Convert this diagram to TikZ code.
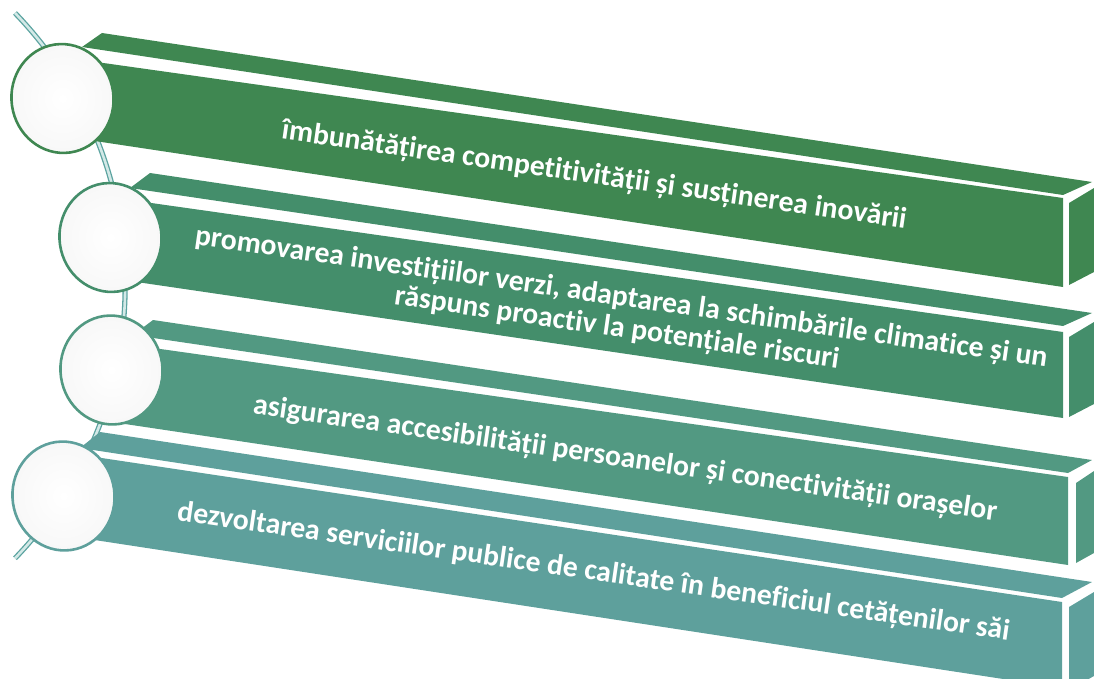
\documentclass[tikz,border=0pt]{standalone}
\usepackage{fontspec}
\setmainfont{Carlito}[Ligatures=NoCommon]
\usetikzlibrary{shapes.geometric}
\definecolor{gA}{HTML}{3F8751}
\definecolor{gB}{HTML}{448E6B}
\definecolor{gC}{HTML}{529982}
\definecolor{gD}{HTML}{5EA09C}
\definecolor{spineC}{HTML}{5BA3A0}
\definecolor{spineL}{HTML}{D3E9E7}
\begin{document}
\begin{tikzpicture}[x=1pt,y=-1pt,
  barlabel/.style={text=white, font=\bfseries\fontsize{29.7}{31}\selectfont, rotate=-8.2, align=center, inner sep=0pt},
  disc/.style={ellipse, draw=#1, line width=2.6pt, inner color=white, outer color=black!3,
    minimum width=102pt, minimum height=109pt, inner sep=0pt, rotate=8},
  spine/.style={draw=spineC, line width=1.3pt, double=spineL, double distance=2.6pt}]
\useasboundingbox (0,0) rectangle (1094,679);
\clip (0,0) rectangle (1094,679);

% spine
\coordinate (s0) at (15,13);
\draw[spine] (s0) arc[start angle=-44, end angle=44, radius=392.5];

% bar 1
\fill[gA] (102,33) -- (1092,182) -- (1063,195) -- (82,47) -- cycle;
\fill[gA] (75,59) -- (1063,198) -- (1063,287) -- (75,138) -- cycle;
\fill[gA] (1069,203) -- (1094,188) -- (1094,272) -- (1069,285) -- cycle;
% bar 2
\fill[gB] (150,173) -- (1092,313) -- (1063,326) -- (130,188) -- cycle;
\fill[gB] (123,199) -- (1063,332) -- (1063,418) -- (123,280) -- cycle;
\fill[gB] (1069,337) -- (1094,322) -- (1094,404) -- (1069,417) -- cycle;
% bar 3
\fill[gC] (153,320) -- (1092,460) -- (1068,473) -- (133,335) -- cycle;
\fill[gC] (125,344) -- (1068,477) -- (1068,565) -- (125,424) -- cycle;
\fill[gC] (1076,483) -- (1094,471) -- (1094,553) -- (1076,563) -- cycle;
% bar 4
\fill[gD] (100,432) -- (1092,582) -- (1062,598) -- (80,448) -- cycle;
\fill[gD] (75,454) -- (1062,602) -- (1062,688) -- (75,537) -- cycle;
\fill[gD] (1069,607) -- (1094,592) -- (1094,676) -- (1069,690) -- cycle;

% circles
\node (c1) [disc=gA] at (62.5,98.5) {};
\node (c2) [disc=gB] at (110.5,237.5) {};
\node (c3) [disc=gC] at (111.5,370) {};
\node (c4) [disc=gD] at (63.5,496) {};

% texts
\node (t1) [barlabel] at (594,176) {îmbunătățirea competitivității și susținerea inovării};
\node (t2) [barlabel] at (619,313.5) {promovarea investițiilor verzi, adaptarea la schimbările climatice și un\\răspuns proactiv la potențiale riscuri};
\node (t3) [barlabel] at (625,459.5) {asigurarea accesibilității persoanelor și conectivității orașelor};
\node (t4) [barlabel] at (593.5,572.5) {dezvoltarea serviciilor publice de calitate în beneficiul cetățenilor săi};
\end{tikzpicture}
\end{document}
